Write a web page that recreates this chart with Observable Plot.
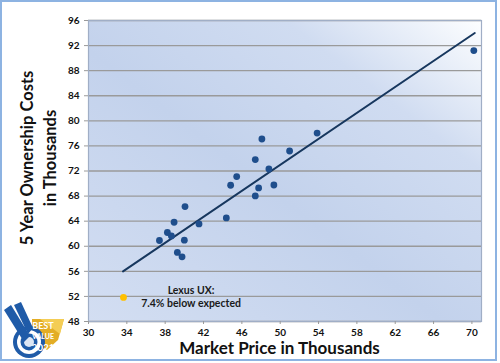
<!DOCTYPE html>
<html>
<head>
<meta charset="utf-8">
<script src="https://cdn.jsdelivr.net/npm/d3@7"></script>
<script src="https://cdn.jsdelivr.net/npm/@observablehq/plot@0.6"></script>
<style>
  html, body { margin: 0; padding: 0; background: #ffffff; }
  #wrap { position: relative; width: 500px; height: 363px; overflow: hidden; }
  #wrap svg.plot { position: absolute; left: 0; top: 0; }
  #border { position: absolute; left: 0; top: 0; width: 497px; height: 361px; box-sizing: border-box; border: 2px solid #8db3e2; pointer-events: none; }
  #logo { position: absolute; left: 0px; top: 298px; }
</style>
</head>
<body>
<div id="wrap">
  <div id="chart"></div>
  <svg id="logo" width="66" height="65" viewBox="0 0 66 65">
    <polygon points="32,21 64,21 58,42 47,52 32,42" fill="#e3ad25"/>
    <polygon points="40,21 64,21 60,36" fill="#f4cd55"/>
    <circle cx="29" cy="44" r="16" fill="#1f5ba8"/>
    <circle cx="29" cy="44" r="12" fill="#ffffff"/>
    <circle cx="29" cy="44" r="8.5" fill="#1f5ba8"/>
    <circle cx="29" cy="44" r="5" fill="#dce6f4"/>
    <polygon points="4,12 11,7 30,38 24,44" fill="#1f5ba8"/>
    <polygon points="14,7 21,4 33,30 28,36" fill="#1f5ba8"/>
    <text x="43" y="31" font-family="Lato" font-weight="bold" font-size="9" fill="#ffffff" text-anchor="middle">BEST</text>
    <text x="43" y="40.5" font-family="Lato" font-weight="bold" font-size="7" fill="#ffffff" text-anchor="middle">VALUE</text>
    <text x="43" y="53" font-family="Lato" font-weight="bold" font-size="10" fill="#ffffff" text-anchor="middle">2021</text>
  </svg>
  <div id="border"></div>
</div>
<script>
// Market price (thousands) and 5-year ownership cost (thousands)
const priceValues = [53.85, 48.09, 50.98, 47.40, 48.82, 45.46, 44.83, 49.34, 47.75, 47.40,
                     40.07, 44.38, 38.93, 41.53, 38.23, 38.65, 37.40, 40.00, 39.27, 39.76, 70.2];
const costValues  = [78.05, 77.10, 75.19, 73.82, 72.32, 71.11, 69.73, 69.77, 69.30, 68.02,
                     66.33, 64.52, 63.83, 63.56, 62.19, 61.65, 60.92, 60.97, 59.01, 58.31, 91.2];

// Highlighted vehicle
const lexusPrice = [33.65];
const lexusCost = [51.84];

// Trend line endpoints
const trendPrice = [33.6, 70.3];
const trendCost = [56.0, 94.0];

// Annotation
const noteText = ["Lexus UX:\n7.4% below expected"];
const notePrice = [40.7];
const noteCost = [51.95];

// Tick labels
const xTicks = [30, 34, 38, 42, 46, 50, 54, 58, 62, 66, 70];
const yTicks = [48, 52, 56, 60, 64, 68, 72, 76, 80, 84, 88, 92, 96];

const yTitle1 = "5 Year Ownership Costs";
const yTitle2 = "in Thousands";
const xTitle = "Market Price in Thousands";

const points = priceValues.map((p, i) => ({price: p, cost: costValues[i]}));
const lexus = lexusPrice.map((p, i) => ({price: p, cost: lexusCost[i]}));
const trend = trendPrice.map((p, i) => ({price: p, cost: trendCost[i]}));
const note = noteText.map((t, i) => ({text: t, price: notePrice[i], cost: noteCost[i]}));

const chart = Plot.plot({
  width: 500,
  height: 363,
  marginLeft: 88,
  marginRight: 19,
  marginTop: 20,
  marginBottom: 42,
  style: {fontFamily: "Lato", fontWeight: "bold", fontSize: "10px", color: "#1a1a1a", background: "transparent", overflow: "visible"},
  x: {domain: [30, 71]},
  y: {domain: [48, 96]},
  marks: [
    Plot.frame({fill: "url(#plotbg)", stroke: "none"}),
    Plot.gridY(yTicks, {stroke: "#9a9a9a", strokeOpacity: 1, strokeWidth: 1.3}),
    Plot.frame({stroke: "#a0aec6", strokeWidth: 1.2}),
    Plot.axisX(xTicks, {tickSize: 3, tickPadding: 4, label: null, stroke: "#9a9a9a", fill: "#111111", fontWeight: "bold"}),
    Plot.axisY(yTicks, {tickSize: 4, tickPadding: 5, label: null, stroke: "#9a9a9a", fill: "#111111", fontWeight: "bold"}),
    Plot.line(trend, {x: "price", y: "cost", stroke: "#17375e", strokeWidth: 2}),
    Plot.dot(points, {x: "price", y: "cost", r: 3.4, fill: "#1f4e8c", stroke: "none"}),
    Plot.dot(lexus, {x: "price", y: "cost", r: 3.4, fill: "#ffc000", stroke: "none"}),
    Plot.text(note, {x: "price", y: "cost", text: "text", fontSize: 10.5, fontWeight: "bold", lineHeight: 1.25, fill: "#1a1a1a"}),
    Plot.text([yTitle1], {frameAnchor: "left", textAnchor: "middle", lineAnchor: "middle", dx: -61, dy: -13, rotate: -90, fontSize: 16.5, fontWeight: "bold", fill: "#111"}),
    Plot.text([yTitle2], {frameAnchor: "left", textAnchor: "middle", lineAnchor: "middle", dx: -38, dy: -13, rotate: -90, fontSize: 16.5, fontWeight: "bold", fill: "#111"}),
    Plot.text([xTitle], {frameAnchor: "bottom", textAnchor: "middle", lineAnchor: "middle", dx: -5.5, dy: 27, fontSize: 17, fontWeight: "bold", fill: "#111"})
  ]
});

const ns = "http://www.w3.org/2000/svg";
const defs = document.createElementNS(ns, "defs");
defs.innerHTML = `
  <linearGradient id="plotbg" x1="0" y1="1" x2="1" y2="0">
    <stop offset="0" stop-color="#d3def2"/>
    <stop offset="0.45" stop-color="#c3d2ec"/>
    <stop offset="0.75" stop-color="#d0dcf1"/>
    <stop offset="1" stop-color="#fdfeff"/>
  </linearGradient>`;
chart.insertBefore(defs, chart.firstChild);
document.getElementById("chart").appendChild(chart);
</script>
</body>
</html>
